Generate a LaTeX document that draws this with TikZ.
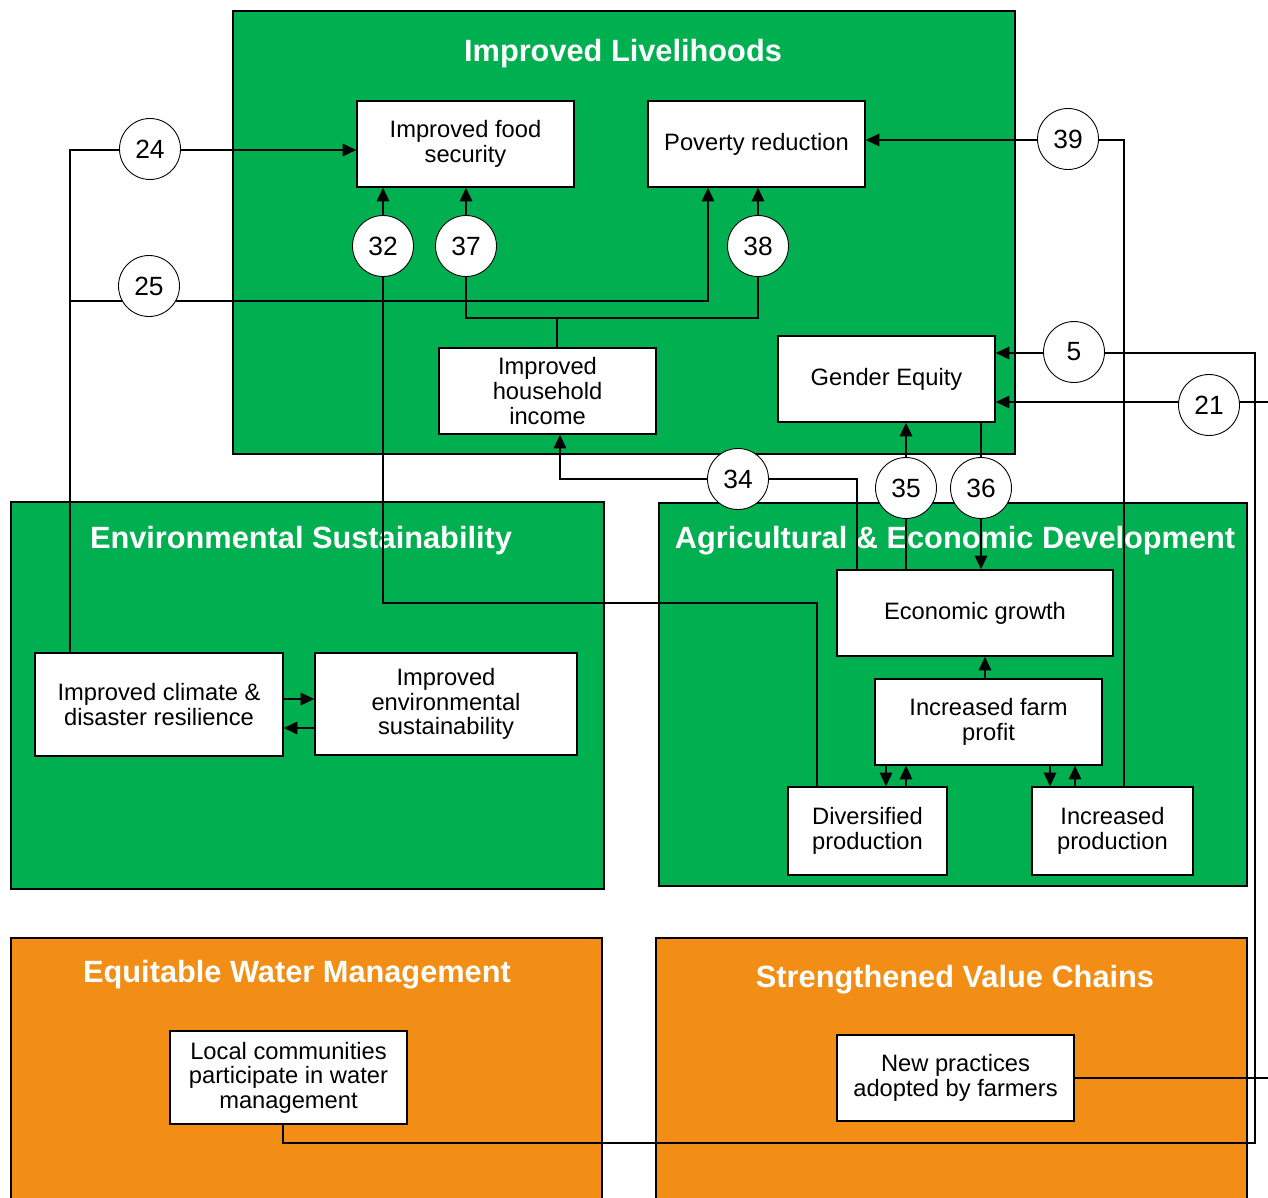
\documentclass[tikz,border=0pt]{standalone}
\usepackage{fontspec}
\setmainfont{Liberation Sans}
\usepackage{tikz}
\usetikzlibrary{arrows.meta}

\definecolor{panelgreen}{RGB}{0,175,80}
\definecolor{panelorange}{RGB}{242,142,22}

\pgfdeclarelayer{panels}
\pgfdeclarelayer{wires}
\pgfsetlayers{panels,wires,main}

\tikzset{
  ptitle/.style={text=white, font=\fontsize{17.5}{20}\selectfont\bfseries},
  outcome/.style={draw, fill=white, line width=0.9pt, align=center, inner sep=2pt,
    font=\fontsize{13.5}{14}\selectfont},
  badge/.style={circle, draw, fill=white, line width=0.5pt, minimum size=1.22cm,
    inner sep=0pt, font=\fontsize{15}{16}\selectfont},
  wire/.style={line width=0.8pt}
}

\begin{document}
\begin{tikzpicture}[x=0.02cm, y=-0.02cm, >={Triangle[length=0.27cm, width=0.25cm]}]
  \useasboundingbox (0,0) rectangle (1268,1197);

  % Panels and their titles
  \begin{pgfonlayer}{panels}
    \filldraw[fill=panelgreen, line width=0.8pt] (233,11) rectangle (1015,454);
    \filldraw[fill=panelgreen, line width=0.8pt] (11,502) rectangle (604,889);
    \filldraw[fill=panelgreen, line width=0.8pt] (659,503) rectangle (1247,886);
    \filldraw[fill=panelorange, line width=0.8pt] (11,938) rectangle (602,1210);
    \filldraw[fill=panelorange, line width=0.8pt] (656,938) rectangle (1247,1210);
    \node[ptitle] (tlive) at (623,54) {Improved Livelihoods};
    \node[ptitle] (tenv) at (301,541) {Environmental Sustainability};
    \node[ptitle] (tagri) at (955,541) {Agricultural \& Economic Development};
    \node[ptitle] (twater) at (297,975) {Equitable Water Management};
    \node[ptitle] (tchain) at (955,980) {Strengthened Value Chains};
  \end{pgfonlayer}

  % Outcome boxes
  \node[outcome, minimum width=4.34cm, minimum height=1.72cm] (food) at (465.5,144) {Improved food\\security};
  \node[outcome, minimum width=4.34cm, minimum height=1.72cm] (pov) at (756.5,144) {Poverty reduction};
  \node[outcome, minimum width=4.34cm, minimum height=1.72cm] (income) at (547.5,391) {Improved\\household\\income};
  \node[outcome, minimum width=4.34cm, minimum height=1.72cm] (gender) at (886.5,379) {Gender Equity};
  \node[outcome, minimum width=5.52cm, minimum height=1.72cm] (growth) at (975,613) {Economic growth};
  \node[outcome, minimum width=4.54cm, minimum height=1.72cm] (profit) at (988.5,722) {Increased farm\\profit};
  \node[outcome, minimum width=3.18cm, minimum height=1.76cm] (divers) at (867.5,831) {Diversified\\production};
  \node[outcome, minimum width=3.22cm, minimum height=1.76cm] (incprod) at (1112.5,831) {Increased\\production};
  \node[outcome, minimum width=4.96cm, minimum height=2.06cm] (clim) at (159,704.5) {Improved climate \&\\disaster resilience};
  \node[outcome, minimum width=5.24cm, minimum height=2.04cm] (env) at (446,704) {Improved\\environmental\\sustainability};
  \node[outcome, minimum width=4.74cm, minimum height=1.86cm] (local) at (288.5,1077.5) {Local communities\\participate in water\\management};
  \node[outcome, minimum width=4.74cm, minimum height=1.72cm] (newpr) at (955.5,1078) {New practices\\adopted by farmers};

  % Numbered links
  \node[badge] (n24) at (150,149) {24};
  \node[badge] (n25) at (149,286) {25};
  \node[badge] (n32) at (383,246) {32};
  \node[badge] (n37) at (466,246) {37};
  \node[badge] (n38) at (758,246) {38};
  \node[badge] (n39) at (1068,139) {39};
  \node[badge] (n5) at (1074,352) {5};
  \node[badge] (n21) at (1209,405) {21};
  \node[badge] (n34) at (738,479) {34};
  \node[badge] (n35) at (906,488) {35};
  \node[badge] (n36) at (981,488) {36};

  \coordinate (fork25) at (70,301);
  \coordinate (split37) at (557,318);
  \coordinate (edge21) at (1280,402);
  \coordinate (edgenew) at (1280,1078);

  % Connectors
  \begin{pgfonlayer}{wires}
    \draw[wire, ->] (clim.north -| 70,0) |- (food.west |- 0,150);
    \draw[wire, ->] (fork25) -| (pov.south -| 708,0);
    \draw[wire, ->] (divers.north -| 817,0) |- (n32 |- 0,603) -- (food.south -| n32);
    \draw[wire] (income.north -| split37) -- (split37);
    \draw[wire, ->] (split37) -| (food.south -| n37);
    \draw[wire, ->] (split37) -| (pov.south -| n38);
    \draw[wire, ->] (incprod.north -| 1124,0) |- (pov.east |- 0,140);
    \draw[wire, ->] (local.south -| 283,0) |- (1255,1143) |- (gender.east |- 0,353);
    \draw[wire, ->] (edge21) -- (gender.east |- edge21);
    \draw[wire] (newpr.east |- edgenew) -- (edgenew);
    \draw[wire, ->] (growth.north -| 857,0) |- (n34) -| (income.south -| 560,0);
    \draw[wire, ->] (growth.north -| n35) -- (gender.south -| n35);
    \draw[wire, ->] (gender.south -| n36) -- (growth.north -| n36);
    \draw[wire, ->] (profit.north -| 985,0) -- (growth.south -| 985,0);
    \draw[wire, ->] (profit.south -| 886,0) -- (divers.north -| 886,0);
    \draw[wire, ->] (divers.north -| 906,0) -- (profit.south -| 906,0);
    \draw[wire, ->] (profit.south -| 1050,0) -- (incprod.north -| 1050,0);
    \draw[wire, ->] (incprod.north -| 1075,0) -- (profit.south -| 1075,0);
    \draw[wire, ->] (clim.east |- 0,699) -- (env.west |- 0,699);
    \draw[wire, ->] (env.west |- 0,728) -- (clim.east |- 0,728);
  \end{pgfonlayer}
\end{tikzpicture}
\end{document}
